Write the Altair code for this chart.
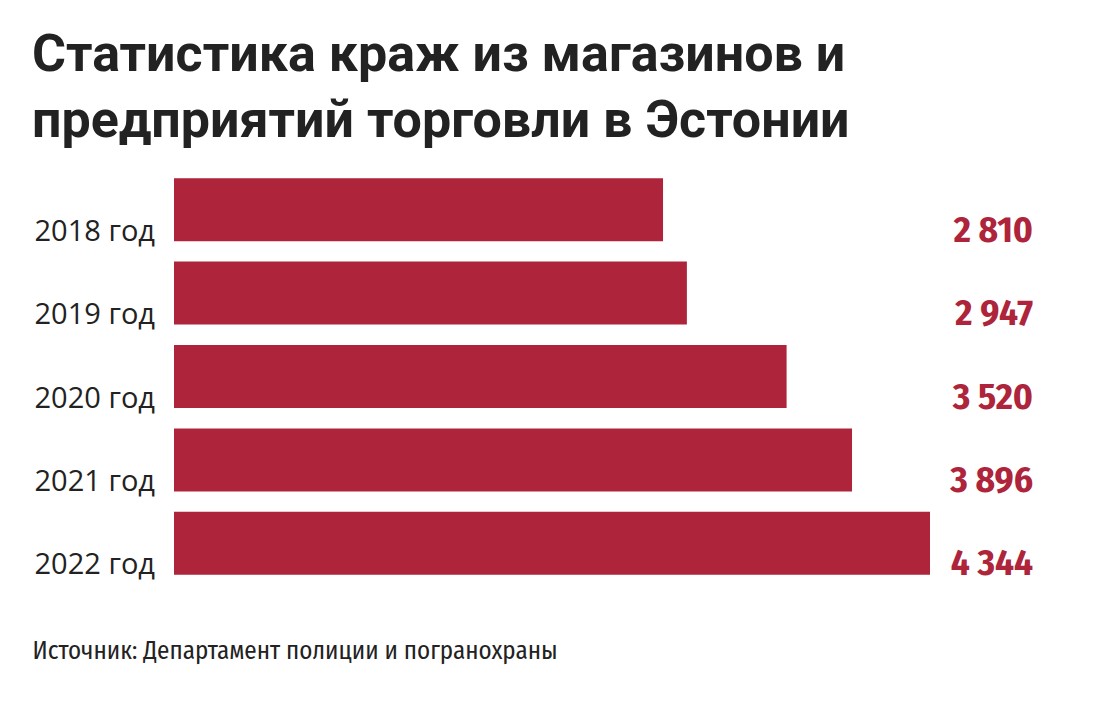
import altair as alt
import pandas as pd

years = ["2018 год", "2019 год", "2020 год", "2021 год", "2022 год"]
values = [2810, 2947, 3520, 3896, 4344]
value_labels = ["2 810", "2 947", "3 520", "3 896", "4 344"]

title_lines = ["Статистика краж из магазинов и", "предприятий торговли в Эстонии"]
source = "Источник: Департамент полиции и погранохраны"

df = pd.DataFrame({"year": years, "value": values, "label": value_labels})

RED = "#ad243b"
COND = "'Fira Sans Condensed', 'Roboto Condensed', 'Liberation Sans Narrow', 'DejaVu Sans Condensed', 'Noto Sans', sans-serif"
REG = "'Myriad Pro', 'Open Sans', 'Noto Sans', sans-serif"
TITLE_FONT = "Roboto, 'Noto Sans', sans-serif"

y_enc = alt.Y("year:N", sort=years,
              scale=alt.Scale(paddingInner=0.245, paddingOuter=0.1225),
              axis=None)

base = alt.Chart(df)

bars = base.mark_bar(color=RED).encode(
    x=alt.X("value:Q", scale=alt.Scale(domain=[0, 4344], nice=False, zero=True),
            axis=alt.Axis(labels=False, ticks=False, domain=False, grid=False,
                          title=source, titleFont=COND, titleFontSize=25,
                          titleFontWeight="normal", titleColor="#222222",
                          titleAnchor="start", titleAlign="left",
                          titleBaseline="alphabetic", titleX=-142, titleY=73)),
    y=y_enc,
)

year_labels = base.mark_text(align="right", baseline="alphabetic", dy=31,
                             font=REG, fontSize=29, color="#222222").encode(
    x=alt.value(-19),
    y=y_enc,
    text="year:N",
)

val_labels = base.mark_text(align="right", baseline="alphabetic", dy=32,
                            font=COND, fontSize=37, fontWeight="bold",
                            color=RED).encode(
    x=alt.value(859),
    y=y_enc,
    text="label:N",
)

chart = alt.layer(bars, year_labels, val_labels).properties(
    width=756,
    height=417,
    autosize=alt.AutoSizeParams(type="none"),
    padding={"left": 166, "top": 160, "right": 155, "bottom": 111},
    title=alt.TitleParams(
        text=title_lines, anchor="start", frame="group", dx=-142,
        font=TITLE_FONT, fontSize=52, fontWeight="bold", color="#222222",
        lineHeight=66, baseline="top", offset=0, dy=-20,
    ),
).configure_view(stroke=None)

chart.save("out.html", embed_options={"renderer": "svg", "actions": False})
